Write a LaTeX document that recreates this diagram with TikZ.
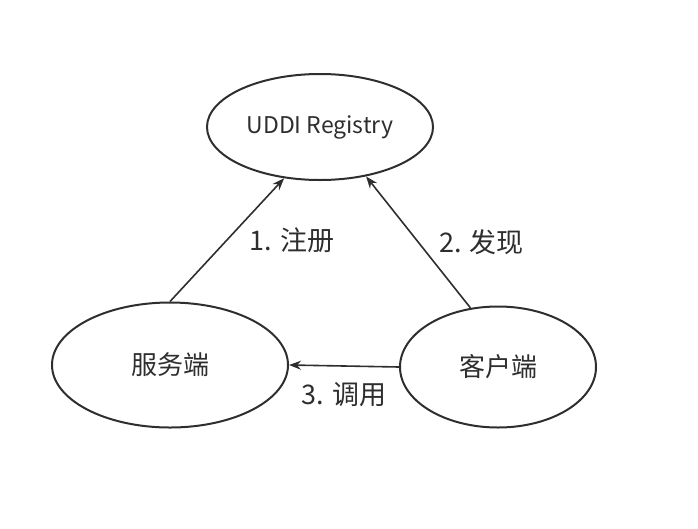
\documentclass[tikz,border=0pt]{standalone}
\usepackage{fontspec}
\setmainfont{Noto Sans CJK SC}
\usepackage{tikz}
\usetikzlibrary{shapes.geometric, arrows.meta, positioning}
\definecolor{inkGray}{HTML}{2E2E2E}
\tikzset{
  roleEll/.style={ellipse, draw=inkGray, line width=2pt, inner sep=0pt, text=inkGray, font=\fontsize{26}{29}\selectfont},
  callArr/.style={line width=1.6pt, draw=inkGray, -{Stealth[length=12pt, width=9pt]}},
  stepLbl/.style={text=inkGray, font=\fontsize{27}{30}\selectfont, inner sep=0pt},
}
\begin{document}
\begin{tikzpicture}[x=1pt, y=-1pt]
\useasboundingbox (0,0) rectangle (698,528);
\node (reg) [roleEll, minimum width=226pt, minimum height=106pt, font=\fontsize{23}{26}\selectfont] at (320,127) {UDDI Registry};
\node (srv) [roleEll, minimum width=236pt, minimum height=125pt] at (170,365) {服务端};
\node (cli) [roleEll, minimum width=196pt, minimum height=121pt] at (498,367) {客户端};

% publish / find / bind
\draw [callArr] (srv.90) -- node[stepLbl, midway, right=22pt] {1. 注册} (reg.235);
\draw [callArr] (cli.115) -- node[stepLbl, midway, right=20pt] {2. 发现} (reg.313);
\draw [callArr] (cli.west) -- node[stepLbl, midway, below=16pt] {3. 调用} (srv.east);
\end{tikzpicture}
\end{document}
